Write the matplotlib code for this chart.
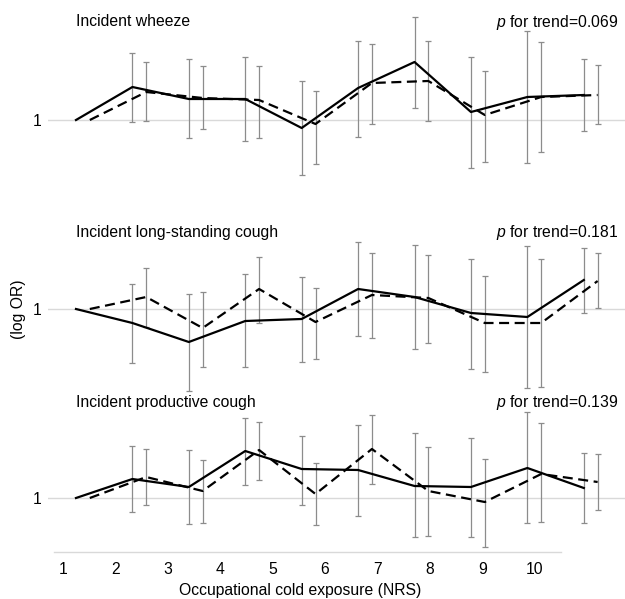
import numpy as np
import matplotlib
matplotlib.use("Agg")
import matplotlib.pyplot as plt

plt.rcParams['font.family'] = ['Liberation Sans', 'DejaVu Sans']
plt.rcParams['mathtext.fontset'] = 'custom'
plt.rcParams['mathtext.rm'] = 'Liberation Sans'
plt.rcParams['mathtext.it'] = 'Liberation Sans:italic'

# --- Daten (log OR, Referenz NRS 1 = 0) ---
nrs = np.arange(1, 11)
titles = ["Incident wheeze", "Incident long-standing cough", "Incident productive cough"]
p_trend = ["0.069", "0.181", "0.139"]

# Incident wheeze
wheeze_crude = [0, 0.33, 0.21, 0.21, -0.08, 0.32, 0.58, 0.08, 0.23, 0.25]
wheeze_crude_lo = [0, -0.02, -0.18, -0.21, -0.55, -0.17, 0.12, -0.48, -0.43, -0.11]
wheeze_crude_hi = [0, 0.67, 0.61, 0.63, 0.39, 0.79, 1.03, 0.63, 0.89, 0.61]
wheeze_adj = [0, 0.28, 0.22, 0.20, -0.04, 0.37, 0.39, 0.05, 0.23, 0.25]
wheeze_adj_lo = [0, -0.01, -0.09, -0.18, -0.44, -0.04, -0.01, -0.42, -0.32, -0.04]
wheeze_adj_hi = [0, 0.58, 0.54, 0.54, 0.29, 0.76, 0.79, 0.49, 0.78, 0.55]

# Incident long-standing cough
lsc_crude = [0, -0.14, -0.33, -0.12, -0.10, 0.20, 0.12, -0.04, -0.08, 0.29]
lsc_crude_lo = [0, -0.54, -0.82, -0.58, -0.53, -0.27, -0.40, -0.60, -0.79, -0.04]
lsc_crude_hi = [0, 0.25, 0.15, 0.35, 0.32, 0.67, 0.64, 0.50, 0.63, 0.61]
lsc_adj = [0, 0.12, -0.19, 0.20, -0.13, 0.14, 0.11, -0.14, -0.14, 0.28]
lsc_adj_lo = [0, -0.18, -0.58, -0.14, -0.50, -0.29, -0.34, -0.63, -0.78, 0.01]
lsc_adj_hi = [0, 0.41, 0.17, 0.52, 0.21, 0.56, 0.54, 0.33, 0.50, 0.56]

# Incident productive cough
prod_crude = [0, 0.19, 0.11, 0.47, 0.29, 0.28, 0.12, 0.11, 0.30, 0.10]
prod_crude_lo = [0, -0.14, -0.26, 0.13, -0.07, -0.18, -0.39, -0.39, -0.25, -0.25]
prod_crude_hi = [0, 0.52, 0.48, 0.80, 0.62, 0.73, 0.65, 0.60, 0.86, 0.45]
prod_adj = [0, 0.21, 0.07, 0.48, 0.04, 0.49, 0.07, -0.04, 0.24, 0.16]
prod_adj_lo = [0, -0.07, -0.25, 0.18, -0.27, 0.14, -0.38, -0.49, -0.24, -0.12]
prod_adj_hi = [0, 0.49, 0.38, 0.76, 0.35, 0.83, 0.51, 0.39, 0.75, 0.44]

panels = [
    (wheeze_crude, wheeze_crude_lo, wheeze_crude_hi, wheeze_adj, wheeze_adj_lo, wheeze_adj_hi),
    (lsc_crude, lsc_crude_lo, lsc_crude_hi, lsc_adj, lsc_adj_lo, lsc_adj_hi),
    (prod_crude, prod_crude_lo, prod_crude_hi, prod_adj, prod_adj_lo, prod_adj_hi),
]
title_y = [0.98, 0.76, 0.95]

# --- Layout ---
W, H = 625, 599
fs = 11.3
fig = plt.figure(figsize=(W / 100, H / 100), dpi=100)
left = 48 / W
width = 577 / W
bottoms = [(H - 197) / H, (H - 386) / H, (H - 575) / H]
height = 189 / H
offset = 0.245  # Versatz der zweiten Serie

for k, (c, clo, chi, a, alo, ahi) in enumerate(panels):
    ax = fig.add_axes([left, bottoms[k], width, height])
    ax.patch.set_visible(False)
    c, clo, chi = map(np.array, (c, clo, chi))
    a, alo, ahi = map(np.array, (a, alo, ahi))

    ax.axhline(0, color="#d9d9d9", lw=1, zorder=0)

    xc = nrs
    xa = nrs + offset
    for x, y, lo, hi in [(xc, c, clo, chi), (xa, a, alo, ahi)]:
        eb = ax.errorbar(x[1:], y[1:], yerr=[y[1:] - lo[1:], hi[1:] - y[1:]],
                         fmt="none", ecolor="#8c8c8c", elinewidth=0.9,
                         capsize=2.3, capthick=0.9, zorder=1)
        for art in eb.lines[1] + eb.lines[2]:
            art.set_clip_on(False)
    ax.plot(xc, c, color="black", lw=1.6, zorder=3)
    ax.plot(xa, a, color="black", lw=1.6, ls=(0, (4.5, 2.5)), zorder=3)

    ax.set_xlim(0.504, 10.73)
    ax.set_ylim(-0.77, 1.12)
    ax.set_yticks([0])
    ax.set_yticklabels(["1"], fontsize=fs)
    ax.tick_params(axis="y", length=0, pad=5)

    for s in ["top", "right", "left"]:
        ax.spines[s].set_visible(False)

    ax.text(1.0, title_y[k], titles[k], fontsize=fs, ha="left", va="center")
    ax.text(10.61, title_y[k], r"$p$ for trend=" + p_trend[k], fontsize=fs,
            ha="right", va="center")

    if k < 2:
        ax.spines["bottom"].set_visible(False)
        ax.set_xticks([])
    else:
        ax.spines["bottom"].set_position(("data", -0.54))
        ax.spines["bottom"].set_bounds(0.61, 9.6)
        ax.spines["bottom"].set_color("#d9d9d9")
        ax.spines["bottom"].set_linewidth(1)
        tick_pos = 0.77 + 0.929 * (nrs - 1)
        ax.set_xticks(tick_pos)
        ax.set_xticklabels([str(n) for n in nrs], fontsize=fs)
        ax.tick_params(axis="x", length=0, pad=7)

fig.text(300 / W, (H - 591) / H, "Occupational cold exposure (NRS)",
         fontsize=fs, ha="center", va="center")
fig.text(18 / W, (H - 309) / H, "(log OR)", fontsize=fs, rotation=90,
         ha="center", va="center")

plt.savefig("out.png", dpi=100)
